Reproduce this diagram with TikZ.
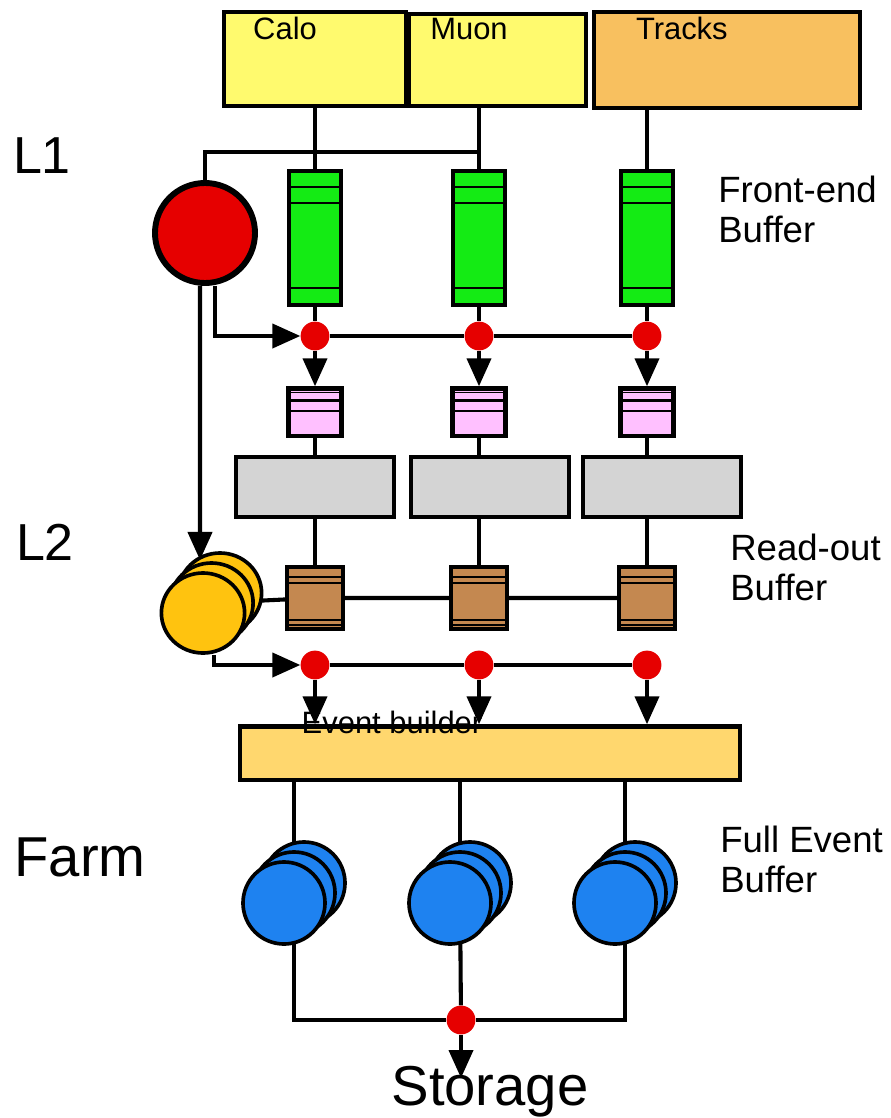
\documentclass[tikz,border=0pt]{standalone}
\usepackage{fontspec}
\setmainfont{Liberation Sans}
\usetikzlibrary{arrows.meta,positioning,shapes.geometric,backgrounds}
\definecolor{detYellow}{RGB}{255,250,110}
\definecolor{detOrange}{RGB}{248,192, 95}
\definecolor{feGreen}{RGB}{ 20,235, 20}
\definecolor{lvPink}{RGB}{255,192,255}
\definecolor{roGrey}{RGB}{212,212,212}
\definecolor{robBrown}{RGB}{196,136, 80}
\definecolor{coinYellow}{RGB}{255,195, 15}
\definecolor{farmBlue}{RGB}{ 30,130,240}
\definecolor{trigRed}{RGB}{230,  0,  0}
\definecolor{ebOrange}{RGB}{255,215,110}
\newcommand\dtfont{\fontsize{22}{24}\selectfont}
\newcommand\sidefont{\fontsize{26}{28.5}\selectfont}
\newcommand\lvfont{\fontsize{37}{40}\selectfont}
\newcommand\bufstripe[3]{\draw[line width=#3] ([yshift=#2]path picture bounding box.#1 west)
   -- ([yshift=#2]path picture bounding box.#1 east);}
\tikzset{
  wire/.style   ={line width=2.9pt, draw=black},
  arr/.style    ={wire, -{Triangle[length=0.7cm, width=0.6cm]}},
  det/.style    ={rectangle, draw, line width=3.2pt, fill=detYellow, inner sep=0pt},
  dettxt/.style ={anchor=base west, inner sep=0pt, font=\dtfont},
  feb/.style    ={rectangle, draw, line width=3pt, fill=feGreen, inner sep=0pt,
                  minimum width=1.3cm, minimum height=3.35cm,
                  path picture={\bufstripe{north}{-0.4cm}{1.8pt}\bufstripe{north}{-0.8cm}{1.8pt}
                                \bufstripe{south}{0.42cm}{1.8pt}}},
  l2buf/.style  ={rectangle, draw, line width=3pt, fill=lvPink, inner sep=0pt,
                  minimum width=1.32cm, minimum height=1.18cm,
                  path picture={\bufstripe{north}{-0.1cm}{1pt}\bufstripe{north}{-0.3cm}{1.8pt}
                                \bufstripe{north}{-0.56cm}{1.8pt}}},
  rob/.style    ={rectangle, draw, line width=3pt, fill=robBrown, inner sep=0pt,
                  minimum width=1.4cm, minimum height=1.55cm,
                  path picture={\bufstripe{north}{-0.25cm}{1.6pt}\bufstripe{north}{-0.4cm}{1.6pt}
                                \bufstripe{south}{0.23cm}{1.6pt}\bufstripe{south}{0.1cm}{1pt}}},
  grey/.style   ={rectangle, draw, line width=3.2pt, fill=roGrey, inner sep=0pt,
                  minimum width=3.95cm, minimum height=1.5cm},
  joint/.style  ={circle, fill=trigRed, inner sep=0pt, minimum size=0.72cm},
  trig/.style   ={circle, draw, line width=4.2pt, fill=trigRed, inner sep=0pt, minimum size=2.5cm},
  coin/.style   ={ellipse, draw, line width=2.6pt, fill=coinYellow, inner sep=0pt,
                  minimum width=2.08cm, minimum height=2cm},
  farm/.style   ={circle, draw, line width=2.6pt, fill=farmBlue, inner sep=0pt, minimum size=2.05cm},
  side/.style   ={anchor=north west, inner sep=0pt, align=left, font=\sidefont},
  level/.style  ={anchor=base, inner sep=0pt, font=\lvfont},
}
\begin{document}
\begin{tikzpicture}[x=0.025cm, y=-0.025cm]
\useasboundingbox (0,0) rectangle (891,1118);

% detectors
\node[det, minimum width=4.55cm, minimum height=2.35cm,
      label={[dettxt, xshift=0.78cm, yshift=-0.75cm]north west:Calo}] (calo) at (315,59) {};
\node[det, minimum width=4.42cm, minimum height=2.3cm,
      label={[dettxt, xshift=0.58cm, yshift=-0.7cm]north west:Muon}] (muon) at (497.5,60) {};
\node[det, fill=detOrange, minimum width=6.65cm, minimum height=2.4cm,
      label={[dettxt, xshift=1.1cm, yshift=-0.75cm]north west:Tracks}] (tracks) at (727,60) {};

% one column per detector
\foreach \c/\x in {A/315, B/479, C/647} {
  \node[feb] (fe\c) at (\x,238) {};
  \node[joint] (d\c1) at (\x,336) {};
  \node[l2buf] (p\c) at (\x,412) {};
  \node[rob] (b\c) at (\x,598) {};
  \node[joint] (d\c2) at (\x,665) {};
}
\foreach \c/\x in {A/315, B/490, C/662}
  \node[grey] (g\c) at (\x,487) {};

% trigger levels
\node[trig] (l1) at (205,233) {};
\node[coin] (coinC) at (220,593) {};
\node[coin] (coinB) at (211.5,603) {};
\node[coin] (coinA) at (203,613) {};
\coordinate (tapB) at (479,152);
\coordinate (l2in) at (200,560);

% event builder and farm
\node[rectangle, draw, line width=3pt, fill=ebOrange, minimum width=12.5cm, minimum height=1.33cm]
   (eb) at (490,753) {};
\node[dettxt, anchor=base] (ebtxt) at (392,733) {Event builder};
\foreach \n/\x in {fA/284, fB/450, fC/615} {
  \node[farm] (\n3) at (\x+20,883) {};
  \node[farm] (\n2) at (\x+10,893) {};
  \node[farm] (\n1) at (\x,903) {};
}
\node[joint] (sto) at (461,1020) {};
\coordinate (stoTip) at (461,1078);
\node[level, font=\fontsize{40}{44}\selectfont] (storage) at (490,1105) {Storage};

% labels
\node[level] (lvA) at (42,173) {L1};
\node[level] (lvB) at (45,560) {L2};
\node[level, font=\fontsize{40}{44}\selectfont] (lvC) at (80,876) {Farm};
\node[side] (fetxt) at (718,176) {Front-end\\Buffer};
\node[side] (rotxt) at (730,534) {Read-out\\Buffer};
\node[side] (fftxt) at (720,826) {Full Event\\Buffer};

\begin{scope}[on background layer]
  \draw[wire] (calo) -- (feA);
  \draw[wire] (muon.south -| feB) -- (feB);
  \draw[wire] (tracks.south -| feC) -- (feC);
  \draw[wire] (l1) |- (tapB);
  \foreach \c in {A,B,C} {
    \draw[wire] (fe\c) -- (d\c1);
    \draw[arr] (d\c1) -- (p\c.north);
    \draw[wire] (p\c) -- (b\c);
    \draw[arr] (d\c2) -- (d\c2 |- eb.north);
  }
  \draw[arr] ([xshift=0.25cm]l1.south) |- (dA1.west);
  \draw[wire] (dA1) -- (dB1) -- (dC1);
  \draw[arr] ([xshift=-0.125cm]l1.south) -- (l2in);
  \draw[wire] (coinB) -- (bA) -- (bB) -- (bC);
  \draw[arr] ([xshift=0.275cm]coinA.south) |- (dA2.west);
  \draw[wire] (dA2) -- (dB2) -- (dC2);
  \foreach \n in {fA,fB,fC}
    \draw[wire] (eb.south -| \n2) -- (\n2);
  \draw[wire] (fA2) |- (sto) -| (fC2);
  \draw[wire] (fB2) -- (sto);
  \draw[arr] (sto) -- (stoTip);
\end{scope}
\end{tikzpicture}
\end{document}
